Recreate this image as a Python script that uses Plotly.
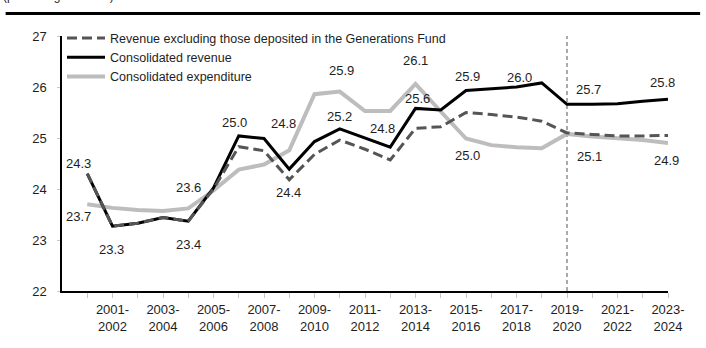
import plotly.graph_objects as go

# Fiscal years, 2000-2001 through 2023-2024
years = [f"{y}-{y + 1}" for y in range(2000, 2024)]
tick_labels = [f"{y}-<br>{y + 1}" if (y - 2000) % 2 == 1 else "" for y in range(2000, 2024)]

revenue_excl_fund = [24.3, 23.27, 23.33, 23.44, 23.37, 24.0, 24.83, 24.75, 24.18, 24.68,
                     24.96, 24.78, 24.57, 25.19, 25.22, 25.5, 25.46, 25.41, 25.33, 25.1,
                     25.07, 25.04, 25.04, 25.05]
consolidated_revenue = [24.3, 23.27, 23.33, 23.44, 23.37, 24.02, 25.04, 24.99, 24.39, 24.93,
                        25.18, 25.0, 24.82, 25.58, 25.55, 25.93, 25.96, 26.0, 26.08, 25.66,
                        25.66, 25.67, 25.72, 25.76]
consolidated_expenditure = [23.7, 23.63, 23.59, 23.57, 23.62, 23.97, 24.38, 24.48, 24.76, 25.86,
                            25.91, 25.53, 25.53, 26.06, 25.52, 24.99, 24.86, 24.82, 24.8, 25.08,
                            25.03, 24.99, 24.96, 24.9]

forecast_start = "2019-2020"

idx = list(range(len(years)))
series = {
    "excl": revenue_excl_fund,
    "rev": consolidated_revenue,
    "exp": consolidated_expenditure,
}

# value labels: (series, year index, x shift px, y shift px)
label_spots = [
    ("rev", 0, -9, 10), ("exp", 0, -9, -12), ("rev", 1, -1, -23), ("rev", 4, 0, -23),
    ("exp", 4, 0, 21), ("rev", 6, -4, 13), ("exp", 8, -6, 27), ("rev", 8, -1, -23),
    ("rev", 10, 0, 12), ("exp", 10, 2, 21), ("rev", 12, -8, 19), ("exp", 13, 0, 23),
    ("rev", 13, 2, 10), ("rev", 15, 1, 14), ("exp", 15, 1, -17), ("rev", 17, 3, 10),
    ("rev", 19, 21, 15), ("excl", 19, 22, -24), ("rev", 23, -6, 17), ("exp", 23, -2, -17),
]

FONT = "Liberation Sans, Arial, sans-serif"
TXT = "#1e1e1e"

fig = go.Figure()
fig.add_trace(go.Scatter(
    x=idx, y=consolidated_expenditure, mode="lines", name="Consolidated expenditure",
    line=dict(color="#bdbdbd", width=4), legendrank=3))
fig.add_trace(go.Scatter(
    x=idx, y=consolidated_revenue, mode="lines", name="Consolidated revenue",
    line=dict(color="#000000", width=3), legendrank=2))
fig.add_trace(go.Scatter(
    x=idx, y=revenue_excl_fund, mode="lines",
    name="Revenue excluding those deposited in the Generations Fund",
    line=dict(color="#555555", width=3, dash="10px,5px"), legendrank=1))

# vertical marker at the start of the projection period
fx = years.index(forecast_start)
fig.add_shape(type="line", xref="x", yref="y", x0=fx, x1=fx, y0=22, y1=27,
              line=dict(color="#555555", width=1, dash="4px,3px"), layer="below")

for key, i, dx, dy in label_spots:
    v = series[key][i]
    fig.add_annotation(x=i, y=v, text=f"{v:.1f}", showarrow=False, xshift=dx, yshift=dy,
                       font=dict(family=FONT, size=13, color=TXT))

# heavy rule across the top of the panel and the clipped caption above it
fig.add_shape(type="line", xref="paper", yref="paper", x0=-0.093, x1=1.053,
              y0=1.088, y1=1.088, line=dict(color="#000000", width=3))
fig.add_annotation(xref="paper", yref="paper", x=-0.1, y=1.122, xanchor="left",
                   yanchor="bottom", text="(percentage of GDP)", showarrow=False,
                   font=dict(family=FONT, size=12, color=TXT))

fig.update_layout(
    width=706, height=348,
    margin=dict(l=61.5, r=38, t=35.5, b=57),
    paper_bgcolor="white", plot_bgcolor="white",
    font=dict(family=FONT, size=13, color=TXT),
    showlegend=True,
    legend=dict(x=0.0, y=1.05, xanchor="left", yanchor="top",
                bgcolor="rgba(0,0,0,0)", font=dict(family=FONT, size=12.5, color=TXT),
                tracegroupgap=0, itemwidth=38),
    xaxis=dict(range=[-1, len(years) - 1], tickmode="array", tickvals=idx,
               ticktext=tick_labels, showgrid=False, zeroline=False,
               showline=True, linecolor="#000000", linewidth=2,
               ticks="outside", ticklen=5, tickcolor="#c8c8c8", tickwidth=1,
               tickangle=0, tickfont=dict(size=13, color=TXT)),
    yaxis=dict(range=[22, 27], tickvals=[22, 23, 24, 25, 26, 27], showgrid=False,
               zeroline=False, showline=True, linecolor="#000000", linewidth=1.5,
               ticks="outside", ticklen=3, tickcolor="#c8c8c8", tickwidth=1,
               ticklabelstandoff=8, tickfont=dict(size=13, color=TXT)),
)

fig.write_html("out.html")
